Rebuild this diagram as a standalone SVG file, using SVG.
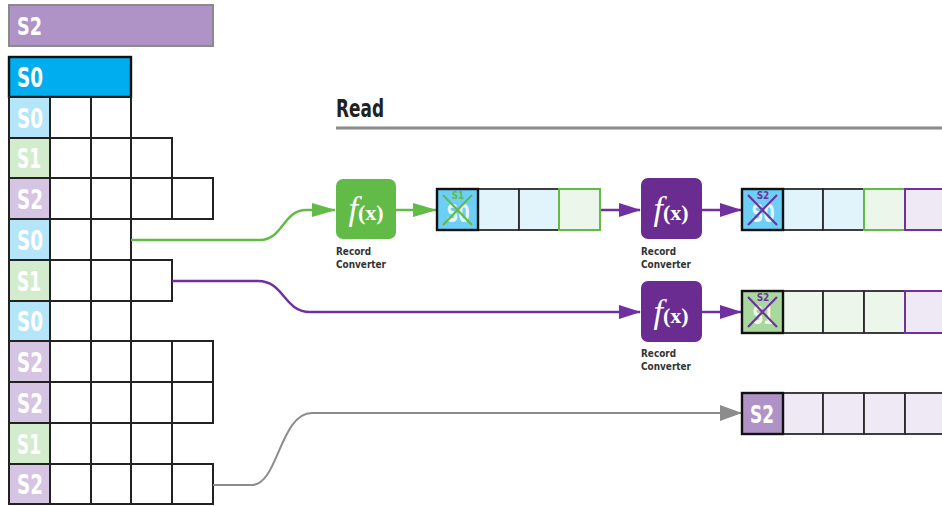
<svg xmlns="http://www.w3.org/2000/svg" width="942" height="506" viewBox="0 0 942 506">
  <style>
    .lbl { font-family: 'DejaVu Sans Condensed', 'DejaVu Sans', 'Liberation Sans', sans-serif; font-weight: bold; fill: #ffffff; font-stretch: condensed; }
    .cap { font-family: 'DejaVu Sans Condensed', 'DejaVu Sans', 'Liberation Sans', sans-serif; font-weight: bold; fill: #333333; font-size: 11px; font-stretch: condensed; }
    .tiny { font-family: 'DejaVu Sans Condensed', 'DejaVu Sans', sans-serif; font-weight: bold; font-size: 10px; }
    .cell { stroke: #222222; stroke-width: 2; }
    .qc { stroke: #2a2a2a; stroke-width: 1.8; }
    .qfirst { stroke: #111111; stroke-width: 2.4; }
    .s0 { fill: #b5e5f8; }
    .s1 { fill: #d4ecce; }
    .s2 { fill: #d5c4e2; }
    .empty { fill: #ffffff; }
    .lb { fill: #e1f3fb; }
    .lg { fill: #edf6ea; }
    .lp { fill: #efe8f5; }
    .fx { font-family: 'Liberation Serif', 'DejaVu Serif', serif; fill: #ffffff; }
    .conn { fill: none; stroke-width: 2.5; }
    .g { stroke: #62bb47; }
    .p { stroke: #7030a0; }
    .k { stroke: #8c8c8c; stroke-width: 2; }
  </style>
  <defs>
    <marker id="arrG" viewBox="0 0 24 14" refX="23" refY="7" markerWidth="24" markerHeight="14" markerUnits="userSpaceOnUse" orient="auto">
      <path d="M0,0 L24,7 L0,14 z" fill="#62bb47"/>
    </marker>
    <marker id="arrP" viewBox="0 0 22 14" refX="21" refY="7" markerWidth="22" markerHeight="14" markerUnits="userSpaceOnUse" orient="auto">
      <path d="M0,0 L22,7 L0,14 z" fill="#7030a0"/>
    </marker>
    <marker id="arrK" viewBox="0 0 22 16" refX="21" refY="8" markerWidth="22" markerHeight="16" markerUnits="userSpaceOnUse" orient="auto">
      <path d="M0,0 L22,8 L0,16 z" fill="#8c8c8c"/>
    </marker>
  </defs>

  <!-- header bars -->
  <g id="bar-s2">
    <rect x="9" y="5" width="204" height="41" fill="#b093c6" stroke="#8a8a8a" stroke-width="2"/>
    <text class="lbl" x="17" y="35" font-size="25" textLength="25" lengthAdjust="spacingAndGlyphs">S2</text>
  </g>
  <g id="bar-s0">
    <rect x="9" y="57" width="122" height="40" fill="#00aeef" stroke="#111111" stroke-width="2.4"/>
    <text class="lbl" x="17" y="87" font-size="26" textLength="26" lengthAdjust="spacingAndGlyphs">S0</text>
  </g>

  <!-- record grid: one row per record, label cell + field cells -->
  <g id="grid">
    <g id="row1">
      <rect class="cell s0" x="9" y="97" width="41" height="41"/>
      <rect class="cell empty" x="50" y="97" width="41" height="41"/>
      <rect class="cell empty" x="91" y="97" width="40" height="41"/>
      <text class="lbl" x="17" y="128" font-size="27" textLength="26" lengthAdjust="spacingAndGlyphs">S0</text>
    </g>
    <g id="row2">
      <rect class="cell s1" x="9" y="138" width="41" height="40"/>
      <rect class="cell empty" x="50" y="138" width="41" height="40"/>
      <rect class="cell empty" x="91" y="138" width="40" height="40"/>
      <rect class="cell empty" x="131" y="138" width="41" height="40"/>
      <text class="lbl" x="17" y="168" font-size="27" textLength="24" lengthAdjust="spacingAndGlyphs">S1</text>
    </g>
    <g id="row3">
      <rect class="cell s2" x="9" y="178" width="41" height="41"/>
      <rect class="cell empty" x="50" y="178" width="41" height="41"/>
      <rect class="cell empty" x="91" y="178" width="40" height="41"/>
      <rect class="cell empty" x="131" y="178" width="41" height="41"/>
      <rect class="cell empty" x="172" y="178" width="41" height="41"/>
      <text class="lbl" x="17" y="209" font-size="27" textLength="26" lengthAdjust="spacingAndGlyphs">S2</text>
    </g>
    <g id="row4">
      <rect class="cell s0" x="9" y="219" width="41" height="41"/>
      <rect class="cell empty" x="50" y="219" width="41" height="41"/>
      <rect class="cell empty" x="91" y="219" width="40" height="41"/>
      <text class="lbl" x="17" y="250" font-size="27" textLength="26" lengthAdjust="spacingAndGlyphs">S0</text>
    </g>
    <g id="row5">
      <rect class="cell s1" x="9" y="260" width="41" height="41"/>
      <rect class="cell empty" x="50" y="260" width="41" height="41"/>
      <rect class="cell empty" x="91" y="260" width="40" height="41"/>
      <rect class="cell empty" x="131" y="260" width="41" height="41"/>
      <text class="lbl" x="17" y="291" font-size="27" textLength="24" lengthAdjust="spacingAndGlyphs">S1</text>
    </g>
    <g id="row6">
      <rect class="cell s0" x="9" y="301" width="41" height="40"/>
      <rect class="cell empty" x="50" y="301" width="41" height="40"/>
      <rect class="cell empty" x="91" y="301" width="40" height="40"/>
      <text class="lbl" x="17" y="331" font-size="27" textLength="26" lengthAdjust="spacingAndGlyphs">S0</text>
    </g>
    <g id="row7">
      <rect class="cell s2" x="9" y="341" width="41" height="41"/>
      <rect class="cell empty" x="50" y="341" width="41" height="41"/>
      <rect class="cell empty" x="91" y="341" width="40" height="41"/>
      <rect class="cell empty" x="131" y="341" width="41" height="41"/>
      <rect class="cell empty" x="172" y="341" width="41" height="41"/>
      <text class="lbl" x="17" y="372" font-size="27" textLength="26" lengthAdjust="spacingAndGlyphs">S2</text>
    </g>
    <g id="row8">
      <rect class="cell s2" x="9" y="382" width="41" height="41"/>
      <rect class="cell empty" x="50" y="382" width="41" height="41"/>
      <rect class="cell empty" x="91" y="382" width="40" height="41"/>
      <rect class="cell empty" x="131" y="382" width="41" height="41"/>
      <rect class="cell empty" x="172" y="382" width="41" height="41"/>
      <text class="lbl" x="17" y="413" font-size="27" textLength="26" lengthAdjust="spacingAndGlyphs">S2</text>
    </g>
    <g id="row9">
      <rect class="cell s1" x="9" y="423" width="41" height="41"/>
      <rect class="cell empty" x="50" y="423" width="41" height="41"/>
      <rect class="cell empty" x="91" y="423" width="40" height="41"/>
      <rect class="cell empty" x="131" y="423" width="41" height="41"/>
      <text class="lbl" x="17" y="454" font-size="27" textLength="24" lengthAdjust="spacingAndGlyphs">S1</text>
    </g>
    <g id="row10">
      <rect class="cell s2" x="9" y="464" width="41" height="40"/>
      <rect class="cell empty" x="50" y="464" width="41" height="40"/>
      <rect class="cell empty" x="91" y="464" width="40" height="40"/>
      <rect class="cell empty" x="131" y="464" width="41" height="40"/>
      <rect class="cell empty" x="172" y="464" width="41" height="40"/>
      <text class="lbl" x="17" y="494" font-size="27" textLength="26" lengthAdjust="spacingAndGlyphs">S2</text>
    </g>
  </g>

  <!-- section heading -->
  <g id="heading">
    <text x="336" y="117" font-family="'DejaVu Sans Condensed', 'DejaVu Sans', 'Liberation Sans', sans-serif" font-weight="bold" font-size="24" fill="#222222" textLength="48" lengthAdjust="spacingAndGlyphs">Read</text>
    <line x1="336" y1="128" x2="942" y2="128" stroke="#8a8a8a" stroke-width="3"/>
  </g>

  <!-- connectors -->
  <g id="connectors">
    <path class="conn g" d="M131,240 H260 C283,240 283,210 306,210 H335" marker-end="url(#arrG)"/>
    <path class="conn g" d="M396,210 H436" marker-end="url(#arrG)"/>
    <path class="conn p" d="M600,210 H640" marker-end="url(#arrP)"/>
    <path class="conn p" d="M702,210 H741" marker-end="url(#arrP)"/>
    <path class="conn p" d="M172,281 H258 C284,281 284,312 310,312 H640" marker-end="url(#arrP)"/>
    <path class="conn p" d="M702,312 H741" marker-end="url(#arrP)"/>
    <path class="conn k" d="M213,485 H252 C278,485 280,413 312,413 H741" marker-end="url(#arrK)"/>
  </g>

  <!-- record converters -->
  <g id="conv1">
    <rect x="336" y="179" width="60" height="60" rx="7" fill="#62bb47"/>
    <text class="fx" x="366" y="220" text-anchor="middle"><tspan font-style="italic" font-size="34">f</tspan><tspan font-weight="bold" font-size="22">(x)</tspan></text>
    <text class="cap" x="336" y="255" textLength="35" lengthAdjust="spacingAndGlyphs">Record</text>
    <text class="cap" x="336" y="268" textLength="50" lengthAdjust="spacingAndGlyphs">Converter</text>
  </g>
  <g id="conv2">
    <rect x="641" y="178" width="61" height="61" rx="7" fill="#6a2c91"/>
    <text class="fx" x="671" y="220" text-anchor="middle"><tspan font-style="italic" font-size="34">f</tspan><tspan font-weight="bold" font-size="22">(x)</tspan></text>
    <text class="cap" x="641" y="255" textLength="35" lengthAdjust="spacingAndGlyphs">Record</text>
    <text class="cap" x="641" y="268" textLength="50" lengthAdjust="spacingAndGlyphs">Converter</text>
  </g>
  <g id="conv3">
    <rect x="641" y="281" width="61" height="61" rx="7" fill="#6a2c91"/>
    <text class="fx" x="671" y="323" text-anchor="middle"><tspan font-style="italic" font-size="34">f</tspan><tspan font-weight="bold" font-size="22">(x)</tspan></text>
    <text class="cap" x="641" y="357" textLength="35" lengthAdjust="spacingAndGlyphs">Record</text>
    <text class="cap" x="641" y="370" textLength="50" lengthAdjust="spacingAndGlyphs">Converter</text>
  </g>

  <!-- queue after first conversion -->
  <g id="queue1">
    <rect class="qc lb" x="478" y="189" width="41" height="41"/>
    <rect class="qc lb" x="519" y="189" width="40" height="41"/>
    <rect class="lg" x="559" y="189" width="41" height="41" stroke="#62bb47" stroke-width="2"/>
    <rect class="qfirst" x="437" y="189" width="41" height="41" fill="#6dcff6"/>
    <text class="lbl" x="458" y="222" font-size="24" text-anchor="middle" fill-opacity="0.85" textLength="23" lengthAdjust="spacingAndGlyphs">S0</text>
    <path d="M443,195 L472,225 M472,195 L443,225" stroke="#62bb47" stroke-width="2.2"/>
    <text class="tiny" x="458" y="199" fill="#62bb47" text-anchor="middle">S1</text>
  </g>

  <!-- queue after second conversion -->
  <g id="queue2">
    <rect class="qc lb" x="783" y="189" width="40" height="41"/>
    <rect class="qc lb" x="823" y="189" width="41" height="41"/>
    <rect class="lg" x="864" y="189" width="41" height="41" stroke="#62bb47" stroke-width="2"/>
    <rect class="lp" x="905" y="189" width="41" height="41" stroke="#7030a0" stroke-width="2"/>
    <rect class="qfirst" x="742" y="189" width="41" height="41" fill="#6dcff6"/>
    <text class="lbl" x="763" y="222" font-size="24" text-anchor="middle" fill-opacity="0.85" textLength="23" lengthAdjust="spacingAndGlyphs">S0</text>
    <path d="M748,195 L777,225 M777,195 L748,225" stroke="#7030a0" stroke-width="2.2"/>
    <text class="tiny" x="763" y="199" fill="#7030a0" text-anchor="middle">S2</text>
  </g>

  <!-- queue for converted S1 records -->
  <g id="queue3">
    <rect class="qc lg" x="783" y="291" width="40" height="42"/>
    <rect class="qc lg" x="823" y="291" width="41" height="42"/>
    <rect class="qc lg" x="864" y="291" width="41" height="42"/>
    <rect class="lp" x="905" y="291" width="41" height="42" stroke="#7030a0" stroke-width="2"/>
    <rect class="qfirst" x="742" y="291" width="41" height="42" fill="#a9d89e"/>
    <text class="lbl" x="763" y="324" font-size="24" text-anchor="middle" fill-opacity="0.85" textLength="21" lengthAdjust="spacingAndGlyphs">S1</text>
    <path d="M748,297 L777,327 M777,297 L748,327" stroke="#7030a0" stroke-width="2.2"/>
    <text class="tiny" x="763" y="301" fill="#7030a0" text-anchor="middle">S2</text>
  </g>

  <!-- queue for S2 records passed through -->
  <g id="queue4">
    <rect class="qc lp" x="783" y="393" width="40" height="41"/>
    <rect class="qc lp" x="823" y="393" width="41" height="41"/>
    <rect class="qc lp" x="864" y="393" width="41" height="41"/>
    <rect class="qc lp" x="905" y="393" width="41" height="41"/>
    <rect class="qfirst" x="742" y="393" width="41" height="41" fill="#b093c6"/>
    <text class="lbl" x="762" y="423" font-size="25" text-anchor="middle" textLength="24" lengthAdjust="spacingAndGlyphs">S2</text>
  </g>
</svg>
